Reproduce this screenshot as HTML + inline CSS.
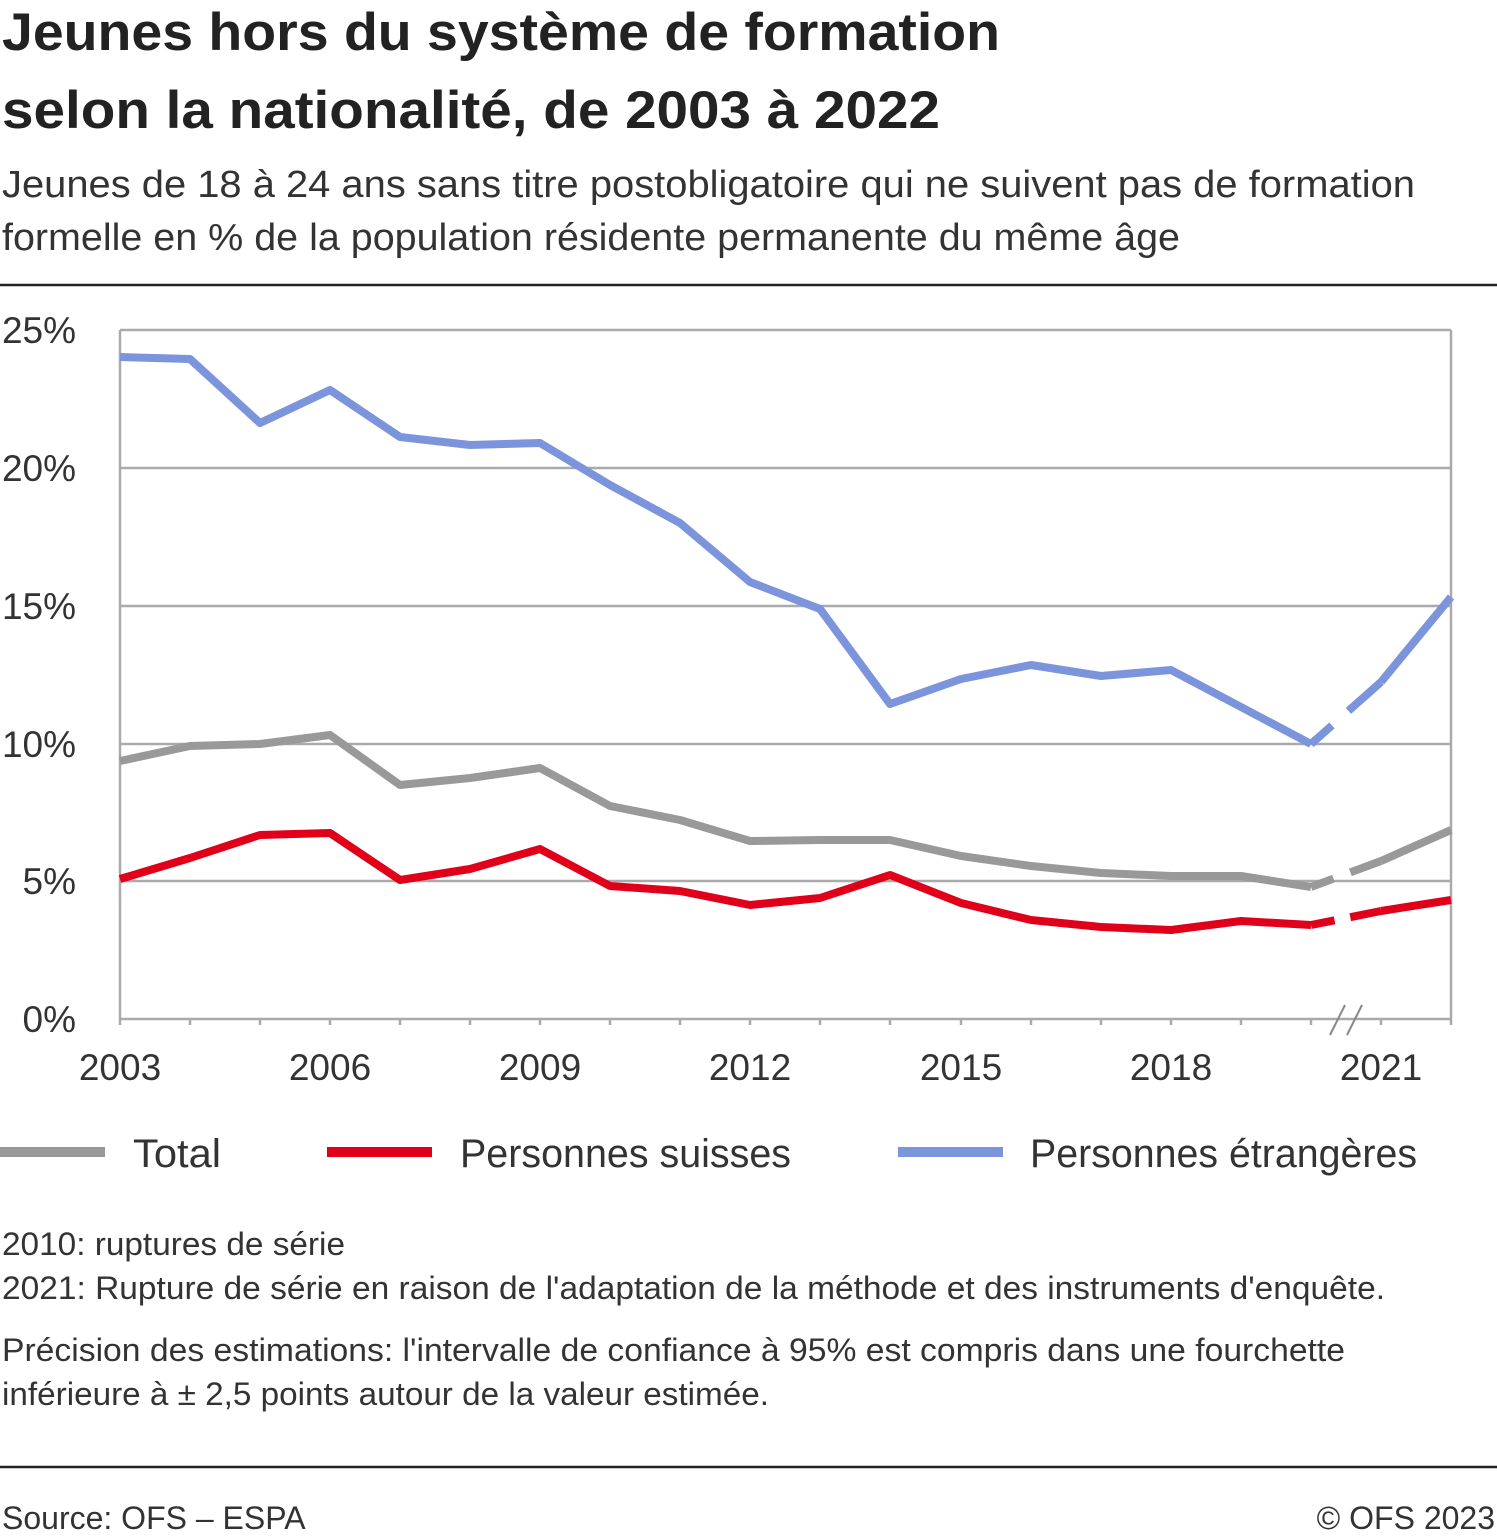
<!DOCTYPE html>
<html><head><meta charset="utf-8"><style>
html,body{margin:0;padding:0;background:#fff;}
svg{display:block;font-family:"Liberation Sans",Arial,sans-serif;}
</style></head><body>
<svg width="1497" height="1538" viewBox="0 0 1497 1538" xmlns="http://www.w3.org/2000/svg">
<text x="2" y="50" font-size="53" font-weight="bold" fill="#222" textLength="998" lengthAdjust="spacingAndGlyphs">Jeunes hors du système de formation</text>
<text x="2" y="128" font-size="53" font-weight="bold" fill="#222" textLength="938" lengthAdjust="spacingAndGlyphs">selon la nationalité, de 2003 à 2022</text>
<text x="2" y="197" font-size="38" fill="#333" textLength="1413" lengthAdjust="spacingAndGlyphs">Jeunes de 18 à 24 ans sans titre postobligatoire qui ne suivent pas de formation</text>
<text x="2" y="250" font-size="38" fill="#333" textLength="1178" lengthAdjust="spacingAndGlyphs">formelle en % de la population résidente permanente du même âge</text>
<line x1="0" y1="285" x2="1497" y2="285" stroke="#222" stroke-width="2.5"/>
<g stroke="#aaa" stroke-width="2.5">
<line x1="120" y1="330" x2="1451" y2="330"/>
<line x1="120" y1="468" x2="1451" y2="468"/>
<line x1="120" y1="606" x2="1451" y2="606"/>
<line x1="120" y1="744" x2="1451" y2="744"/>
<line x1="120" y1="881" x2="1451" y2="881"/>
<line x1="120" y1="1019" x2="1451" y2="1019"/>
<line x1="120" y1="330" x2="120" y2="1025"/>
<line x1="1451" y1="330" x2="1451" y2="1025"/>
<line x1="190" y1="1019" x2="190" y2="1025"/><line x1="260" y1="1019" x2="260" y2="1025"/><line x1="330" y1="1019" x2="330" y2="1025"/><line x1="400" y1="1019" x2="400" y2="1025"/><line x1="470" y1="1019" x2="470" y2="1025"/><line x1="540" y1="1019" x2="540" y2="1025"/><line x1="610" y1="1019" x2="610" y2="1025"/><line x1="680" y1="1019" x2="680" y2="1025"/><line x1="750" y1="1019" x2="750" y2="1025"/><line x1="820" y1="1019" x2="820" y2="1025"/><line x1="890" y1="1019" x2="890" y2="1025"/><line x1="961" y1="1019" x2="961" y2="1025"/><line x1="1031" y1="1019" x2="1031" y2="1025"/><line x1="1101" y1="1019" x2="1101" y2="1025"/><line x1="1171" y1="1019" x2="1171" y2="1025"/><line x1="1241" y1="1019" x2="1241" y2="1025"/><line x1="1311" y1="1019" x2="1311" y2="1025"/><line x1="1381" y1="1019" x2="1381" y2="1025"/>
</g>
<g stroke="#888" stroke-width="2"><line x1="1330" y1="1035" x2="1345" y2="1005"/><line x1="1347" y1="1035" x2="1362" y2="1005"/></g>
<g font-size="37" fill="#333" text-anchor="end">
<text x="76" y="343">25%</text><text x="76" y="481">20%</text><text x="76" y="619">15%</text><text x="76" y="757">10%</text><text x="76" y="894">5%</text><text x="76" y="1032">0%</text>
</g>
<g font-size="37" fill="#333" text-anchor="middle">
<text x="120" y="1080">2003</text><text x="330" y="1080">2006</text><text x="540" y="1080">2009</text><text x="750" y="1080">2012</text><text x="961" y="1080">2015</text><text x="1171" y="1080">2018</text><text x="1381" y="1080">2021</text>
</g>
<g fill="none" stroke-width="8" stroke-linejoin="round">
<polyline stroke="#7b94dc" points="120,357 190,359 260,423 330,390 400,437 470,445 540,443 610,485 680,523 750,582 820,609 890,704 961,679 1031,665 1101,676 1171,670 1241,707 1311,744"/>
<polyline stroke="#7b94dc" points="1381,682 1451,597"/>
<line stroke="#7b94dc" x1="1311" y1="744" x2="1381" y2="682" stroke-dasharray="28 22 200"/>
<polyline stroke="#999" points="120,761 190,746 260,744 330,735 400,785 470,778 540,768 610,806 680,820 750,841 820,840 890,840 961,856 1031,866 1101,873 1171,876 1241,876 1311,887"/>
<polyline stroke="#999" points="1381,861 1451,830"/>
<line stroke="#999" x1="1311" y1="887" x2="1381" y2="861" stroke-dasharray="24 18 200"/>
<polyline stroke="#e1001a" points="120,879 190,858 260,835 330,833 400,880 470,869 540,849 610,886 680,891 750,905 820,898 890,875 961,903 1031,920 1101,927 1171,930 1241,921 1311,925"/>
<polyline stroke="#e1001a" points="1381,911 1451,900"/>
<line stroke="#e1001a" x1="1311" y1="925" x2="1381" y2="911" stroke-dasharray="24 16 200"/>
</g>
<g stroke-width="10">
<line x1="0" y1="1152" x2="105" y2="1152" stroke="#999"/>
<line x1="327" y1="1152" x2="432" y2="1152" stroke="#e1001a"/>
<line x1="898" y1="1152" x2="1003" y2="1152" stroke="#7b94dc"/>
</g>
<g font-size="40" fill="#333">
<text x="133" y="1167" textLength="88" lengthAdjust="spacingAndGlyphs">Total</text><text x="460" y="1167" textLength="331" lengthAdjust="spacingAndGlyphs">Personnes suisses</text><text x="1030" y="1167" textLength="387" lengthAdjust="spacingAndGlyphs">Personnes étrangères</text>
</g>
<g font-size="32" fill="#333">
<text x="2" y="1255" textLength="343" lengthAdjust="spacingAndGlyphs">2010: ruptures de série</text>
<text x="2" y="1299" textLength="1383" lengthAdjust="spacingAndGlyphs">2021: Rupture de série en raison de l'adaptation de la méthode et des instruments d'enquête.</text>
<text x="2" y="1361" textLength="1343" lengthAdjust="spacingAndGlyphs">Précision des estimations: l'intervalle de confiance à 95% est compris dans une fourchette</text>
<text x="2" y="1405" textLength="767" lengthAdjust="spacingAndGlyphs">inférieure à ± 2,5 points autour de la valeur estimée.</text>
</g>
<line x1="0" y1="1467" x2="1497" y2="1467" stroke="#222" stroke-width="2.5"/>
<text x="2" y="1529" font-size="32" fill="#333">Source: OFS – ESPA</text>
<text x="1495" y="1529" font-size="32" fill="#333" text-anchor="end">© OFS 2023</text>
</svg>
</body></html>
